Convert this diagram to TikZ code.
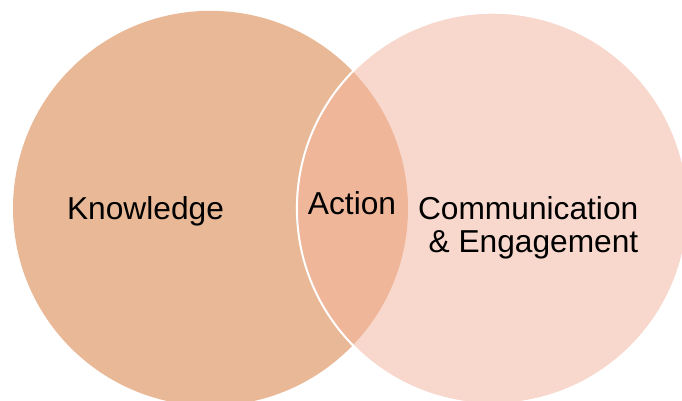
\documentclass[tikz,border=0pt]{standalone}
\usepackage{fontspec}
\setmainfont{Liberation Sans}
\definecolor{knowfill}{RGB}{233,185,151}
\definecolor{commfill}{RGB}{248,216,204}
\definecolor{lensfill}{RGB}{239,182,153}
\tikzset{
  label text/.style={font=\fontsize{31.7}{33}\selectfont, text=black, inner sep=0pt, anchor=base},
}
\begin{document}
\begin{tikzpicture}[x=1pt, y=-1pt]
  \useasboundingbox (0,0) rectangle (682,400);
  \begin{scope}
    \clip (0,0) rectangle (682,400);
    \coordinate (cK) at (210.5,208.3);
    \coordinate (cC) at (492.5,208.3);
    % the two sets
    \fill[knowfill] (cK) circle[radius=197.5];
    \fill[commfill] (cC) circle[radius=195.6];
    % their overlap
    \begin{scope}
      \clip (cK) circle[radius=197.5];
      \fill[lensfill] (cC) circle[radius=195.6];
    \end{scope}
    \draw[white, line width=2pt] (cC) circle[radius=195.6];
  \end{scope}
  \node[label text] (know) at (145.5,219.5) {Knowledge};
  \node[label text] (act) at (352,214) {Action};
  \node[label text, anchor=base east] (comm1) at (638.5,219.5) {Communication};
  \node[label text, anchor=base east] (comm2) at (638.5,252.5) {\& Engagement};
\end{tikzpicture}
\end{document}
